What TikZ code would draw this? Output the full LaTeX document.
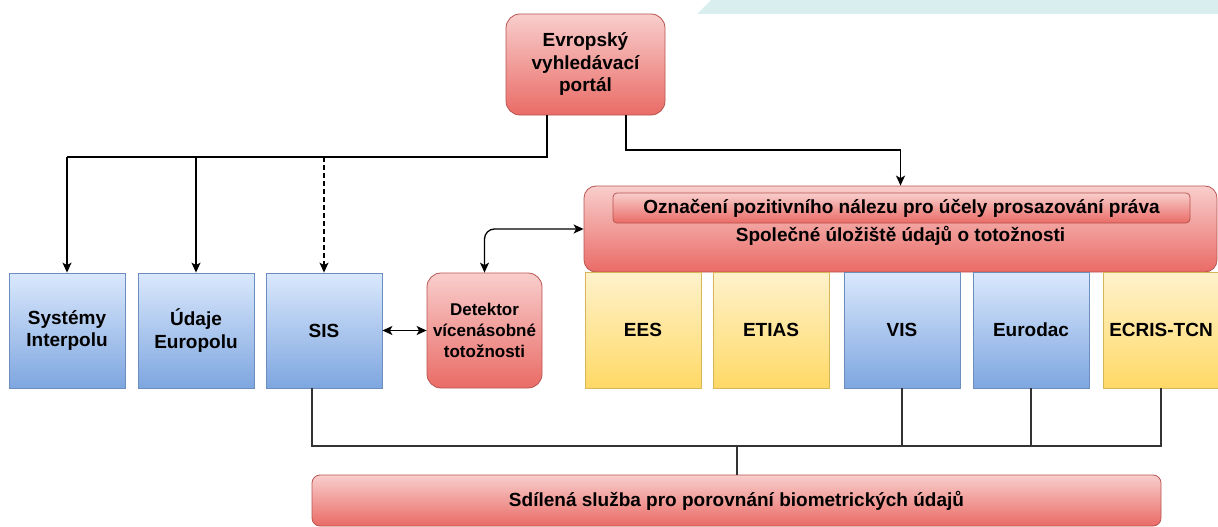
\documentclass[tikz,border=0pt]{standalone}
\usepackage{fontspec}
\setmainfont{Liberation Sans}
\usetikzlibrary{arrows.meta}
\definecolor{redtop}{HTML}{F8CECC}
\definecolor{redbot}{HTML}{EA6B66}
\definecolor{redline}{HTML}{B85450}
\definecolor{bluetop}{HTML}{DAE8FC}
\definecolor{bluebot}{HTML}{7EA6E0}
\definecolor{blueline}{HTML}{6C8EBF}
\definecolor{yeltop}{HTML}{FFF2CC}
\definecolor{yelbot}{HTML}{FFD966}
\definecolor{yelline}{HTML}{D6B656}
\definecolor{cyanband}{HTML}{D9EFEF}
\definecolor{busline}{HTML}{333333}
\begin{document}
\begin{tikzpicture}[x=1pt,y=-1pt,
  >={Stealth[length=10pt,width=9pt,inset=2.5pt]},
  every node/.style={font=\fontsize{19}{22.5}\selectfont\bfseries, align=center, inner sep=0pt, text=black},
  redbox/.style={draw=redline, top color=redtop, bottom color=redbot, rounded corners=14pt, line width=0.8pt},
  bluebox/.style={draw=blueline, top color=bluetop, bottom color=bluebot, line width=0.8pt, minimum width=116pt, minimum height=115pt},
  yelbox/.style={draw=yelline, top color=yeltop, bottom color=yelbot, line width=0.8pt, minimum width=116pt, minimum height=116pt},
  bluerow/.style={draw=blueline, top color=bluetop, bottom color=bluebot, line width=0.8pt, minimum width=116pt, minimum height=116pt},
  conn/.style={line width=1.3pt, draw=black},
  bus/.style={line width=1.1pt, draw=busline}
]
\useasboundingbox (0,0) rectangle (1218,527);
% decorative band top right
\fill[cyanband] (697,14) -- (711,0) -- (1218,0) -- (1218,14) -- cycle;

% nodes
\node[redbox, minimum width=159pt, minimum height=101pt] (evp) at (585.5,64.5) {Evropský\\vyhledávací\\portál};
\node[redbox, rounded corners=12pt, minimum width=633pt, minimum height=86pt] (spol) at (900.5,229) {};
\node[redbox, rounded corners=4pt, minimum width=577pt, minimum height=30pt] (ozn) at (901.5,208) {Označení pozitivního nálezu pro účely prosazování práva};
\node (spoltxt) at (900.5,236) {Společné úložiště údajů o totožnosti};

\node[bluebox] (sys) at (67,330.5) {Systémy\\Interpolu};
\node[bluebox] (ud) at (196,330.5) {Údaje\\Europolu};
\node[bluebox] (sis) at (324,330.5) {SIS};
\node[redbox, minimum width=115pt, minimum height=115pt, font=\fontsize{17}{21}\selectfont\bfseries] (det) at (484.5,330.5) {Detektor\\vícenásobné\\totožnosti};

\node[yelbox] (ees) at (643,330) {EES};
\node[yelbox] (etias) at (771,330) {ETIAS};
\node[bluerow] (vis) at (902,330) {VIS};
\node[bluerow] (eurodac) at (1031,330) {Eurodac};
\node[yelbox] (ecris) at (1161,330) {ECRIS-TCN};

\node[redbox, rounded corners=8pt, minimum width=849pt, minimum height=51pt] (sdil) at (736.5,500.5) {Sdílená služba pro porovnání biometrických údajů};

% coordinates
\coordinate (evpL) at (547,115);
\coordinate (evpR) at (626,115);
\coordinate (topbus) at (547,157);
\coordinate (sisout) at (312,388);
\coordinate (botbusL) at (312,446);
\coordinate (botbusM) at (737,446);

% connectors from portal
\draw[conn] (evpL) -- (topbus) -- (sys.north |- topbus);
\draw[conn,->] (sys.north |- topbus) -- (sys.north);
\draw[conn,->] (ud.north |- topbus) -- (ud.north);
\draw[conn,->,dash pattern=on 5pt off 3pt] (sis.north |- topbus) -- (sis.north);
\draw[conn,->] (evpR) -- (626,150) -| (spol.north);

% detector links
\draw[conn,<->] (sis.east) -- (det.west |- sis.east);
\draw[conn,<->,rounded corners=10pt] (det.north) |- (spol.west);

% bottom bus
\draw[bus] (sisout) -- (botbusL) -- (ecris.south |- botbusL) -- (ecris.south);
\draw[bus] (vis.south) -- (vis.south |- botbusL);
\draw[bus] (eurodac.south) -- (eurodac.south |- botbusL);
\draw[bus] (botbusM) -- (sdil.north -| botbusM);
\end{tikzpicture}
\end{document}
